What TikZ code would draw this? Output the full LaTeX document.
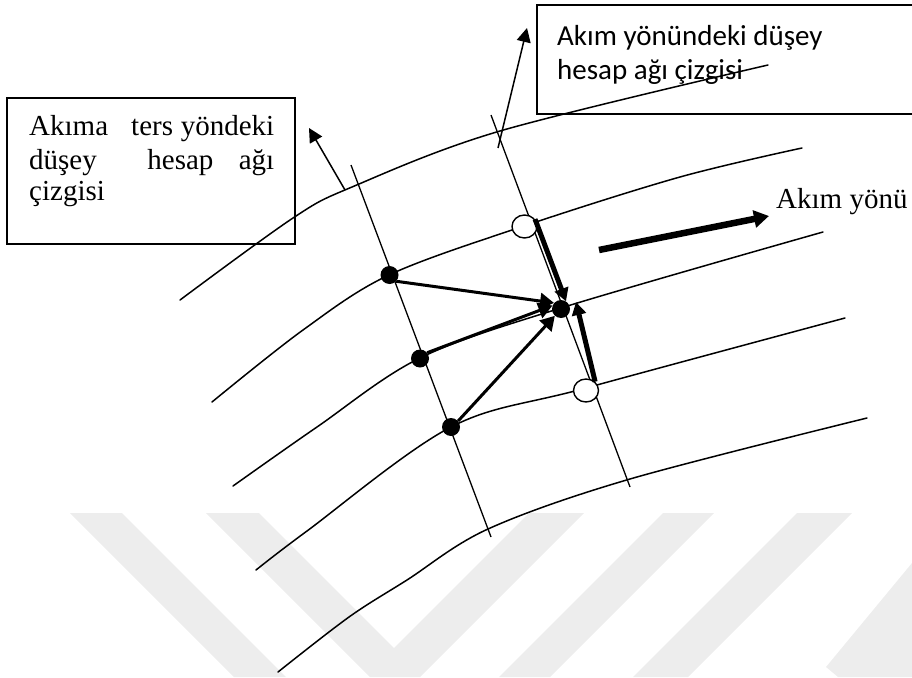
\documentclass[tikz,border=0pt]{standalone}
\usepackage{fontspec}
\setmainfont{Liberation Serif}
\newfontfamily\labelsans{Carlito}
\usetikzlibrary{arrows.meta,shapes.geometric}

\begin{document}
\begin{tikzpicture}[x=1pt,y=-1pt,
  flow/.style={line width=1.5pt,line join=round,line cap=round},
  gridln/.style={line width=1.3pt},
  frame/.style={line width=2pt},
  filleddot/.style={circle,fill=black,inner sep=0pt,minimum size=18pt},
  hollowdot/.style={ellipse,draw=black,line width=1.4pt,fill=white,inner sep=0pt,minimum width=25pt,minimum height=23pt},
  pointer/.style={line width=1.5pt,-{Triangle[length=14pt,width=14pt]}},
  feed/.style={line width=3pt,-{Triangle[length=14pt,width=16pt]}},
  heavy/.style={line width=5pt,-{Triangle[length=13pt,width=14pt]}},
  flowdir/.style={line width=6.5pt,-{Triangle[length=15pt,width=17pt]}},
  watermark/.style={fill=black!7,draw=none},
  txt/.style={inner sep=0pt,anchor=base west,font=\fontsize{29}{33}\selectfont},
]
\useasboundingbox (0,0) rectangle (912,677);

% faint background chevrons
\fill[watermark] (70,513) -- (122,513) -- (286,677) -- (234,677) -- cycle;
\fill[watermark] (206,513) -- (259,513) -- (394,648) -- (529,513) -- (584,513)
                 -- (420,677) -- (370,677) -- cycle;
\fill[watermark] (663,513) -- (714,513) -- (550,677) -- (499,677) -- cycle;
\fill[watermark] (797,513) -- (852,513) -- (688,677) -- (633,677) -- cycle;
\fill[watermark] (826,667) -- (912,563) -- (912,677) -- (838,677) -- cycle;

% label frames
\draw[frame] (7,98) rectangle (295,244);
\draw[frame] (537,5) rectangle (918,114);

% flow lines (slopes decrease steadily from left to right)
\draw[flow] plot[smooth,tension=0.55] coordinates {(180,300) (293,218) (352,187) (500,131) (768,65)};
\draw[flow] plot[smooth,tension=0.55] coordinates {(212,402) (303,330) (389,275) (524,226) (680,177) (802,148)};
\draw[flow] plot[smooth,tension=0.55] coordinates {(233,486) (317,427) (420,358) (561,308) (823,232)};
\draw[flow] plot[smooth,tension=0.55] coordinates {(256,570) (307,531) (451,427) (586,388) (845,318)};
\draw[flow] plot[smooth,tension=0.55] coordinates {(278,672) (349,617) (407,580) (488,529) (630,479) (867,418)};

% vertical grid lines
\coordinate (Ltop) at (351,165);
\coordinate (Lbot) at (491,537);
\coordinate (Rtop) at (491,115);
\coordinate (Rbot) at (630,487);
\draw[gridln] (Ltop) -- (Lbot);
\draw[gridln] (Rtop) -- (Rbot);

% grid points
\node[filleddot] (A) at (389.5,275) {};
\node[filleddot] (B) at (420,358.5) {};
\node[filleddot] (C) at (451,427) {};
\node[filleddot] (T) at (561,309) {};
\node[hollowdot] (O1) at (524.5,226.5) {};
\node[hollowdot] (O2) at (586,390.5) {};

% contributions to the target point
\draw[feed] (A.-43) -- (T.139);
\draw[feed] (B.39) -- (T.158);
\draw[feed] (C.40) -- (T.228);
\coordinate (upTip) at (576,302);
\draw[heavy] (O1.35) -- (T.57);
\draw[heavy] (O2.44) -- (upTip);

% pointers to the labels
\coordinate (lpTail) at (345,190);
\coordinate (lpTip) at (309,128);
\coordinate (rpTail) at (498,148);
\coordinate (rpTip) at (527,28);
\draw[pointer] (lpTail) -- (lpTip);
\draw[pointer] (rpTail) -- (rpTip);

% flow direction
\coordinate (fdTail) at (599,250);
\coordinate (fdTip) at (769,216);
\draw[flowdir] (fdTail) -- (fdTip);

% texts
\node[txt] (up1) at (29,135) {\hbox to 245pt{Akıma\hfill\hfill\hfill ters\hfill yöndeki}};
\node[txt] (up2) at (29,169) {\hbox to 245pt{düşey\hfill\hfill hesap\hfill ağı}};
\node[txt] (up3) at (29,200) {çizgisi};
\node[txt,font=\labelsans\fontsize{29}{33}\selectfont] (dn1) at (557,46) {Akım yönündeki düşey};
\node[txt,font=\labelsans\fontsize{29}{33}\selectfont] (dn2) at (557,79) {hesap ağı çizgisi};
\node[txt] (fdText) at (776,208) {Akım yönü};
\end{tikzpicture}
\end{document}
